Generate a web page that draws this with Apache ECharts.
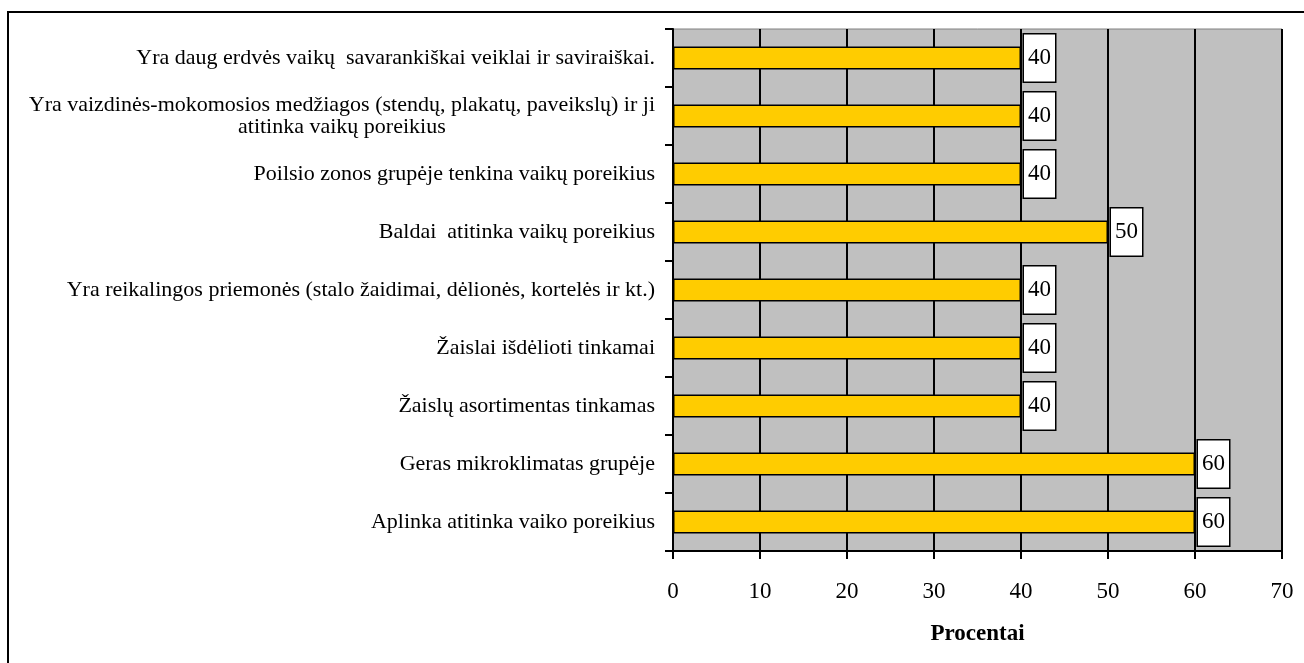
<!DOCTYPE html>
<html>
<head>
<meta charset="utf-8">
<script src="https://cdn.jsdelivr.net/npm/echarts@6/dist/echarts.min.js"></script>
<style>
  html, body { margin: 0; padding: 0; background: #fff; }
  #main { width: 1304px; height: 663px; }
</style>
</head>
<body>
<div id="main"></div>
<script>
// kategorijos (iš viršaus į apačią)
var categories = [
  'Yra daug erdvės vaikų  savarankiškai veiklai ir saviraiškai.',
  'Yra vaizdinės-mokomosios medžiagos (stendų, plakatų, paveikslų) ir ji\natitinka vaikų poreikius',
  'Poilsio zonos grupėje tenkina vaikų poreikius',
  'Baldai  atitinka vaikų poreikius',
  'Yra reikalingos priemonės (stalo žaidimai, dėlionės, kortelės ir kt.)',
  'Žaislai išdėlioti tinkamai',
  'Žaislų asortimentas tinkamas',
  'Geras mikroklimatas grupėje',
  'Aplinka atitinka vaiko poreikius'
]
var values = [40, 40, 40, 50, 40, 40, 40, 60, 60]
var axisTitle = 'Procentai'

var font = '"Liberation Serif", "Times New Roman", serif'
var myChart = echarts.init(document.getElementById('main'))

var option = {
  backgroundColor: '#fff',
  animation: false,
  graphic: [
    {
      type: 'rect',
      shape: { x: 8, y: 12, width: 1310, height: 670 },
      style: { fill: 'none', stroke: '#000', lineWidth: 2 },
      silent: true
    }
  ],
  grid: {
    left: 673,
    top: 29,
    right: 22,
    bottom: 112,
    show: true,
    backgroundColor: '#C0C0C0',
    borderColor: '#808080',
    borderWidth: 1
  },
  xAxis: {
    type: 'value',
    min: 0,
    max: 70,
    interval: 10,
    name: axisTitle,
    nameLocation: 'middle',
    nameGap: 72,
    nameTextStyle: { fontFamily: font, fontSize: 23, fontWeight: 'bold', color: '#000' },
    axisLine: { show: true, lineStyle: { color: '#000', width: 2 } },
    axisTick: { show: true, length: 8, lineStyle: { color: '#000', width: 2 } },
    axisLabel: { fontFamily: font, fontSize: 23, color: '#000', margin: 29 },
    splitLine: { show: true, lineStyle: { color: '#000', width: 2 } }
  },
  yAxis: {
    type: 'category',
    inverse: true,
    data: categories,
    axisLine: { show: true, lineStyle: { color: '#000', width: 2 } },
    axisTick: { show: true, length: 8, lineStyle: { color: '#000', width: 2 } },
    axisLabel: {
      margin: 18,
      formatter: function (v) {
        return v.split('\n').map(function (s) { return '{c|' + s + '}' }).join('\n')
      },
      rich: {
        c: { fontFamily: font, fontSize: 22, color: '#000', align: 'center', lineHeight: 22 }
      }
    },
    splitLine: { show: false }
  },
  series: [
    {
      type: 'bar',
      data: values,
      barWidth: 23,
      itemStyle: { color: '#FFCC00', borderColor: '#000', borderWidth: 1.5 },
      label: {
        show: true,
        position: 'right',
        distance: 3,
        fontFamily: font,
        fontSize: 23,
        color: '#000',
        backgroundColor: '#fff',
        borderColor: '#000',
        borderWidth: 1.5,
        lineHeight: 24,
        padding: [12, 4, 11, 4]
      }
    }
  ]
}
myChart.setOption(option)
</script>
</body>
</html>
